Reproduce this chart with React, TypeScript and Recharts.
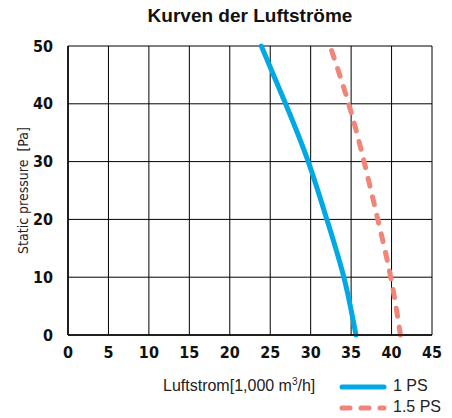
import React from "react";
import { LineChart, Line, XAxis, YAxis, CartesianGrid } from "recharts";

// Luftstrom [1,000 m3/h] vs static pressure [Pa]
const pressure = [0, 10, 20, 30, 40, 50];
const flow1PS = [35.6, 34.1, 32.0, 29.7, 26.9, 23.9];
const flow15PS = [41.1, 39.9, 38.3, 36.6, 34.7, 32.4];

const xTicks = [0, 5, 10, 15, 20, 25, 30, 35, 40, 45];
const yTicks = [0, 10, 20, 30, 40, 50];

const BLUE = "#00a9e6";
const RED = "#f0857a";
const TICK_FONT = "'DejaVu Sans Condensed', 'Liberation Sans Narrow', Arial, sans-serif";
const TEXT_FONT = "'Liberation Sans', Arial, sans-serif";

const data = pressure.map((y, i) => ({ y, a: flow1PS[i], b: flow15PS[i] }));

const LegendBox = () => (
  <div style={{ position: "absolute", left: 0, top: 368, width: 452, height: 50, fontFamily: TEXT_FONT, fontSize: 16, color: "#222" }}>
    <div style={{ position: "absolute", left: 163, top: 8 }}>
      Luftstrom[1,000 m<sup style={{ fontSize: 10 }}>3</sup>/h]
    </div>
    <svg style={{ position: "absolute", left: 336, top: 0 }} width={60} height={50}>
      <line x1={6} y1={19} x2={48} y2={19} stroke={BLUE} strokeWidth={5} strokeLinecap="round" />
      <line x1={6} y1={40} x2={48} y2={40} stroke={RED} strokeWidth={5} strokeLinecap="round" strokeDasharray="8 11" />
    </svg>
    <div style={{ position: "absolute", left: 393, top: 9 }}>1 PS</div>
    <div style={{ position: "absolute", left: 393, top: 30 }}>1.5 PS</div>
  </div>
);

export default function App() {
  return (
    <div style={{ position: "absolute", left: 0, top: 0, width: 452, height: 418, background: "#fff" }}>
      <div
        style={{
          position: "absolute",
          left: 0,
          top: 5,
          width: 500,
          textAlign: "center",
          fontFamily: TEXT_FONT,
          fontWeight: "bold",
          fontSize: 19,
          color: "#111",
        }}
      >
        Kurven der Luftströme
      </div>
      <LineChart layout="vertical" data={data} width={452} height={418} margin={{ top: 46, right: 20, left: 0, bottom: 0 }}>
        <CartesianGrid stroke="#000" strokeWidth={1} />
        <XAxis
          type="number"
          domain={[0, 45]}
          ticks={xTicks}
          height={83}
          tickLine={false}
          axisLine={{ stroke: "#000", strokeWidth: 1.5 }}
          tick={{ fill: "#111", fontFamily: TICK_FONT, fontWeight: "bold", fontSize: 16 }}
          tickMargin={6}
        />
        <YAxis
          type="number"
          dataKey="y"
          domain={[0, 50]}
          ticks={yTicks}
          reversed
          width={68}
          tickLine={false}
          axisLine={{ stroke: "#000", strokeWidth: 1.5 }}
          tick={{ fill: "#111", fontFamily: TICK_FONT, fontWeight: "bold", fontSize: 16 }}
          tickMargin={9}
          label={{
            value: "Static pressure\u00a0\u00a0[Pa]",
            angle: -90,
            position: "insideLeft",
            offset: 23,
            style: { textAnchor: "middle", fontFamily: TICK_FONT, fontSize: 14, fill: "#222" },
          }}
        />
        <Line
          dataKey="a"
          type="natural"
          stroke={BLUE}
          strokeWidth={5}
          strokeLinecap="round"
          dot={false}
          isAnimationActive={false}
          name="1 PS"
        />
        <Line
          dataKey="b"
          type="natural"
          stroke={RED}
          strokeWidth={5}
          strokeLinecap="round"
          strokeDasharray="8 11"
          dot={false}
          isAnimationActive={false}
          name="1.5 PS"
        />
      </LineChart>
      <LegendBox />
    </div>
  );
}
